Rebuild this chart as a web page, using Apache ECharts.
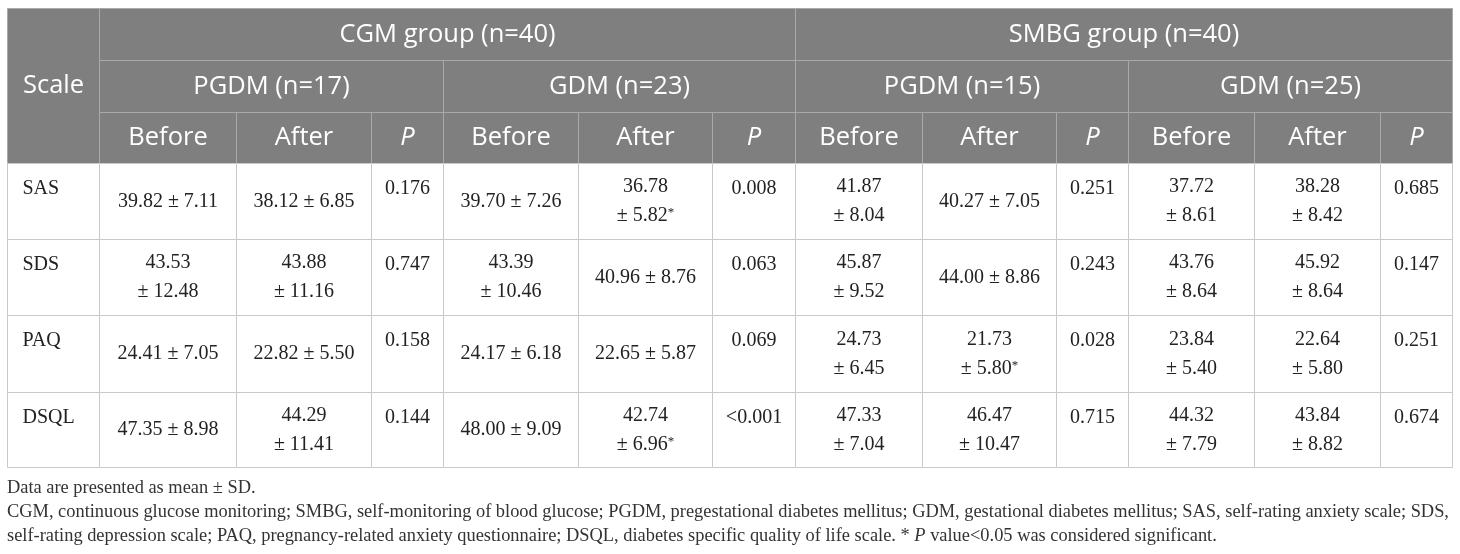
<!DOCTYPE html>
<html>
<head>
<meta charset="utf-8">
<script src="https://cdn.jsdelivr.net/npm/echarts@6/dist/echarts.min.js"></script>
<style>
  html, body { margin: 0; padding: 0; background: #fff; }
  #main { width: 1460px; height: 554px; }
</style>
</head>
<body>
<div id="main"></div>
<script>
// Table content
const scaleNames = ['SAS', 'SDS', 'PAQ', 'DSQL'];
const groupNames = ['CGM group (n=40)', 'SMBG group (n=40)'];
const subgroupNames = ['PGDM (n=17)', 'GDM (n=23)', 'PGDM (n=15)', 'GDM (n=25)'];
const subHeads = ['Before', 'After', 'P'];

// [mean, sd] per scale
const cgmPgdmBefore = [[39.82, 7.11], [43.53, 12.48], [24.41, 7.05], [47.35, 8.98]];
const cgmPgdmAfter = [[38.12, 6.85], [43.88, 11.16], [22.82, 5.50], [44.29, 11.41]];
const cgmPgdmP = ['0.176', '0.747', '0.158', '0.144'];

const cgmGdmBefore = [[39.70, 7.26], [43.39, 10.46], [24.17, 6.18], [48.00, 9.09]];
const cgmGdmAfter = [[36.78, 5.82], [40.96, 8.76], [22.65, 5.87], [42.74, 6.96]];
const cgmGdmAfterSig = [true, false, false, true];
const cgmGdmP = ['0.008', '0.063', '0.069', '<0.001'];

const smbgPgdmBefore = [[41.87, 8.04], [45.87, 9.52], [24.73, 6.45], [47.33, 7.04]];
const smbgPgdmAfter = [[40.27, 7.05], [44.00, 8.86], [21.73, 5.80], [46.47, 10.47]];
const smbgPgdmAfterSig = [false, false, true, false];
const smbgPgdmP = ['0.251', '0.243', '0.028', '0.715'];

const smbgGdmBefore = [[37.72, 8.61], [43.76, 8.64], [23.84, 5.40], [44.32, 7.79]];
const smbgGdmAfter = [[38.28, 8.42], [45.92, 8.64], [22.64, 5.80], [43.84, 8.82]];
const smbgGdmP = ['0.685', '0.147', '0.251', '0.674'];

const noteLines = [
    'Data are presented as mean ± SD.',
    'CGM, continuous glucose monitoring; SMBG, self-monitoring of blood glucose; PGDM, pregestational diabetes mellitus; GDM, gestational diabetes mellitus; SAS, self-rating anxiety scale; SDS,',
    'self-rating depression scale; PAQ, pregnancy-related anxiety questionnaire; DSQL, diabetes specific quality of life scale. * {i|P} value<0.05 was considered significant.'
];

// Layout (table units = pixels on the axes)
const colW = [92, 137, 135, 72, 135, 134, 83, 127, 134, 72, 126, 126, 72];
const rowH = [52, 52, 51, 76, 76, 77, 75];
const tableLeft = 7, tableTop = 8;

const headBg = '#7f7f7f';
const headLine = '#a9a9a9';
const bodyLine = '#c9c9c9';
const sansFont = '"Open Sans", "Noto Sans", sans-serif';
const serifFont = '"Liberation Serif", "Times New Roman", serif';
const valSize = 20;
const noteSize = 18.4;

const colX = [tableLeft];
colW.forEach(w => colX.push(colX[colX.length - 1] + w));
const rowY = [tableTop];
rowH.forEach(h => rowY.push(rowY[rowY.length - 1] + h));

const measureCtx = document.createElement('canvas').getContext('2d');
measureCtx.font = valSize + 'px "Liberation Serif"';

// wrap "mean ± sd" onto two lines when it does not fit the column
function fmtVal(pair, star, width) {
    const m = pair[0].toFixed(2);
    const sd = '± ' + pair[1].toFixed(2);
    const oneLine = m + ' ' + sd + (star ? '*' : '');
    const mark = star ? '{s|*}' : '';
    if (measureCtx.measureText(oneLine).width > width - 30) return m + '\n' + sd + mark;
    return m + ' ' + sd + mark;
}

const cells = [];
function addCell(c0, c1, r0, r1, text, kind, italic) {
    cells.push({ x0: colX[c0], x1: colX[c1], y0: rowY[r0], y1: rowY[r1], text, kind, italic: !!italic });
}

// header
addCell(0, 1, 0, 3, 'Scale', 'head');
groupNames.forEach((g, i) => addCell(1 + i * 6, 7 + i * 6, 0, 1, g, 'head'));
subgroupNames.forEach((s, i) => addCell(1 + i * 3, 4 + i * 3, 1, 2, s, 'head'));
for (let i = 0; i < 4; i++) {
    subHeads.forEach((h, j) => addCell(1 + i * 3 + j, 2 + i * 3 + j, 2, 3, h, 'head', h === 'P'));
}

// body
const blocks = [
    [cgmPgdmBefore, cgmPgdmAfter, null, cgmPgdmP],
    [cgmGdmBefore, cgmGdmAfter, cgmGdmAfterSig, cgmGdmP],
    [smbgPgdmBefore, smbgPgdmAfter, smbgPgdmAfterSig, smbgPgdmP],
    [smbgGdmBefore, smbgGdmAfter, null, smbgGdmP]
];
scaleNames.forEach((name, r) => {
    const row = 3 + r;
    addCell(0, 1, row, row + 1, name, 'label');
    blocks.forEach((b, i) => {
        const c = 1 + i * 3;
        addCell(c, c + 1, row, row + 1, fmtVal(b[0][r], false, colW[c]), 'val');
        addCell(c + 1, c + 2, row, row + 1, fmtVal(b[1][r], b[2] && b[2][r], colW[c + 1]), 'val');
        addCell(c + 2, c + 3, row, row + 1, b[3][r], 'p');
    });
});

function renderItem(params, api) {
    const c = cells[params.dataIndex];
    const p0 = api.coord([api.value(0), api.value(2)]);
    const p1 = api.coord([api.value(1), api.value(3)]);
    const x = Math.round(p0[0]) + 0.5, y = Math.round(p0[1]) + 0.5;
    const w = Math.round(p1[0]) - Math.round(p0[0]);
    const h = Math.round(p1[1]) - Math.round(p0[1]);
    const head = c.kind === 'head';

    let tx = x + w / 2, ty = y + h / 2, align = 'center', vAlign = 'middle';
    if (c.kind === 'label') { tx = x + 15; align = 'left'; }
    if (c.kind === 'label' || c.kind === 'p') { ty = y + 11; vAlign = 'top'; }

    return {
        type: 'group',
        children: [
            {
                type: 'rect',
                shape: { x, y, width: w, height: h },
                style: { fill: head ? headBg : '#fff', stroke: head ? headLine : bodyLine, lineWidth: 1 }
            },
            {
                type: 'text',
                style: {
                    text: c.text,
                    x: tx, y: ty,
                    align: align, textAlign: align,
                    verticalAlign: vAlign, textVerticalAlign: vAlign,
                    fontFamily: head ? sansFont : serifFont,
                    fontSize: head ? 25.5 : valSize,
                    fontStyle: c.italic ? 'italic' : 'normal',
                    lineHeight: 29,
                    fill: head ? '#fff' : '#222',
                    rich: {
                        s: { fontFamily: serifFont, fontSize: 13, fill: '#222', verticalAlign: 'top', padding: [5, 0, 0, 0] }
                    }
                }
            }
        ]
    };
}

const chart = echarts.init(document.getElementById('main'), null, { renderer: 'canvas' });
chart.setOption({
    animation: false,
    grid: { left: 0, right: 0, top: 0, bottom: 0 },
    xAxis: { type: 'value', min: 0, max: 1460, show: false },
    yAxis: { type: 'value', min: 0, max: 554, inverse: true, show: false },
    series: [{
        type: 'custom',
        renderItem: renderItem,
        clip: false,
        encode: { x: [0, 1], y: [2, 3] },
        data: cells.map(c => [c.x0, c.x1, c.y0, c.y1])
    }],
    graphic: noteLines.map((t, i) => ({
        type: 'text',
        x: 7,
        y: 488 + i * 24,
        style: {
            text: t,
            verticalAlign: 'middle', textVerticalAlign: 'middle',
            fontFamily: serifFont,
            fontSize: noteSize,
            fill: '#333',
            rich: { i: { fontStyle: 'italic', fontFamily: serifFont, fontSize: noteSize, fill: '#333' } }
        }
    }))
});
</script>
</body>
</html>
